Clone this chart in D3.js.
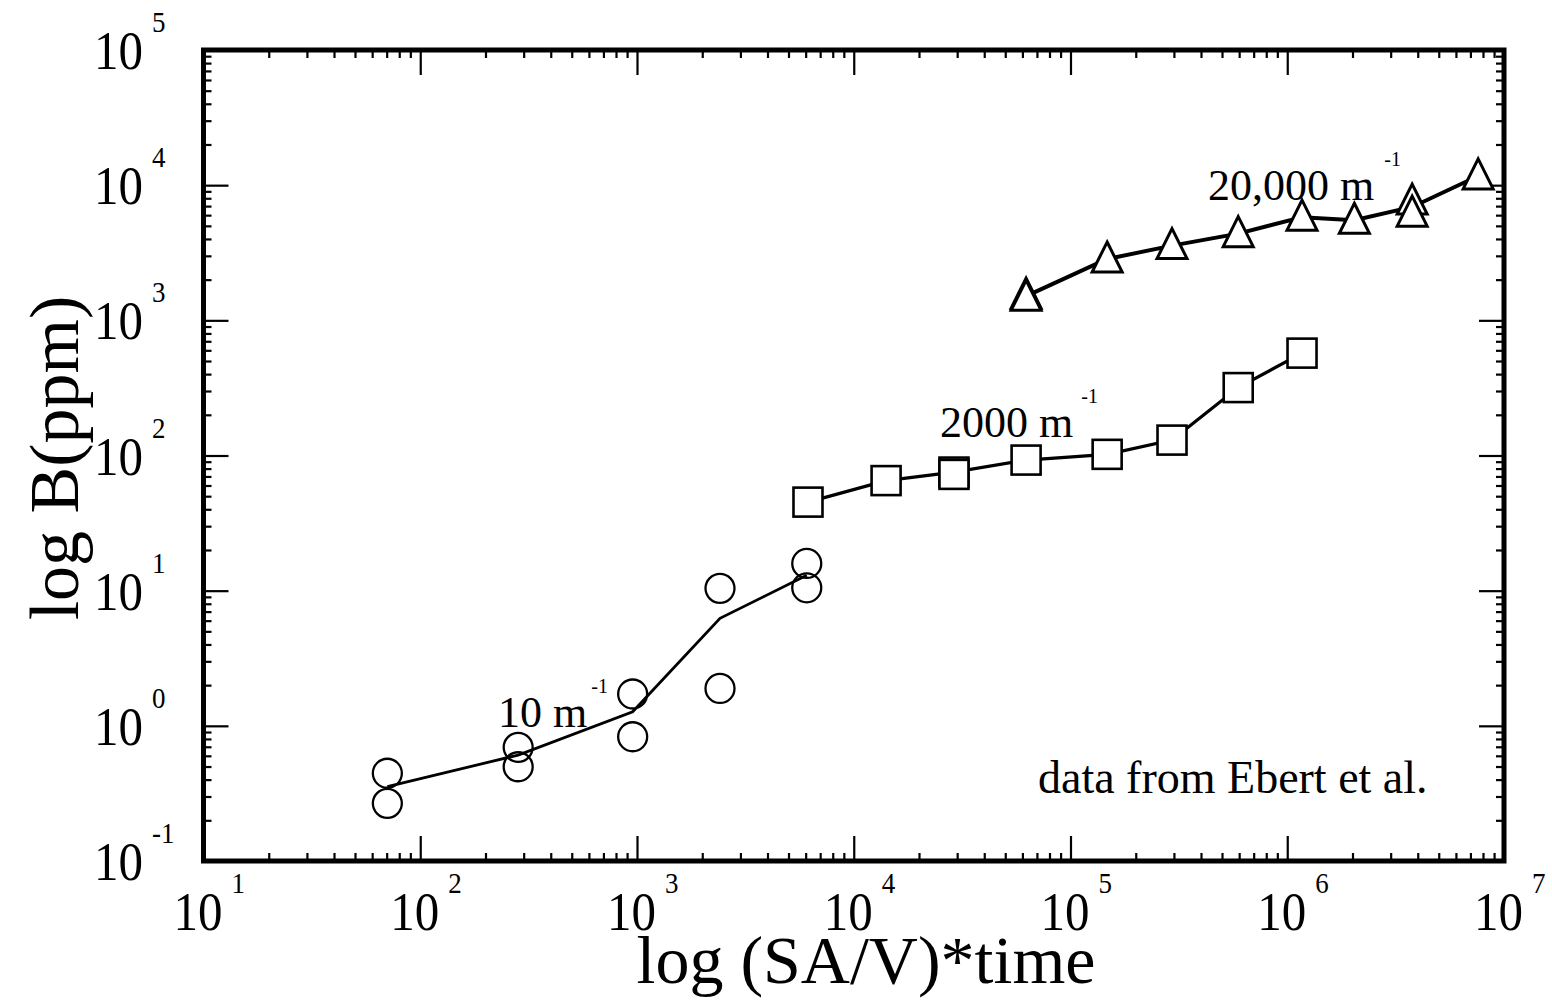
<!DOCTYPE html>
<html>
<head>
<meta charset="utf-8">
<script src="https://cdn.jsdelivr.net/npm/d3@7"></script>
<style>
  body { margin: 0; background: #fff; }
  text { font-family: "Liberation Serif", "Times New Roman", serif; fill: #000; }
</style>
</head>
<body>
<svg id="chart" width="1552" height="1000"></svg>
<script>
// 10 m^-1 (circles), pairs of repeat measurements
const circleX = [70.5, 70.5, 283, 283, 955, 955, 2415, 2415, 6070, 6070];
const circleY = [0.446, 0.267, 0.693, 0.498, 1.72, 0.83, 10.4, 1.89, 15.9, 10.5];
const circleLineX = [70.5, 283, 955, 2415, 6070];
const circleLineY = [0.355, 0.608, 1.27, 6.24, 13.0];

// 2000 m^-1 (squares)
const squareX = [6150, 14100, 29000, 29000, 62400, 147600, 294000, 594000, 1170000];
const squareY = [45.2, 65.2, 75.4, 72.5, 92.5, 102, 130, 318, 572];
const squareLineX = [6150, 14100, 29000, 62400, 147600, 294000, 594000, 1170000];
const squareLineY = [45.2, 65.2, 75.4, 92.5, 102, 130, 318, 572];

// 20,000 m^-1 (triangles)
const triX = [62400, 62400, 147600, 294000, 594000, 1170000, 2040000, 3770000, 3770000, 7600000];
const triY = [1536, 1480, 2843, 3572, 4378, 5800, 5500, 7620, 6210, 11700];
const triLineX = [62400, 147600, 294000, 594000, 1170000, 2040000, 3770000, 7600000];
const triLineY = [1510, 2843, 3572, 4378, 5800, 5500, 6900, 11700];

const xTickExp = [1, 2, 3, 4, 5, 6, 7];
const yTickExp = [-1, 0, 1, 2, 3, 4, 5];

const svg = d3.select("#chart");
const pLeft = 203.5, pRight = 1504, pTop = 50, pBottom = 861;

const x = d3.scaleLog().domain([10, 1e7]).range([pLeft, pRight]);
const y = d3.scaleLog().domain([0.1, 1e5]).range([pBottom, pTop]);

function minorTicks(lo, hi) {
  const out = [];
  for (let e = lo; e < hi; e++)
    for (let k = 2; k <= 9; k++) out.push(k * Math.pow(10, e));
  return out;
}
const xMajor = xTickExp.map(e => Math.pow(10, e));
const yMajor = yTickExp.map(e => Math.pow(10, e));
const xMinor = minorTicks(1, 7);
const yMinor = minorTicks(-1, 5);

// ticks, all pointing inward
function tickAxis(axisFn, scale, vals, len, tr) {
  const g = svg.append("g")
    .attr("transform", tr)
    .call(axisFn(scale).tickValues(vals).tickSize(-len).tickFormat(""));
  g.select(".domain").remove();
  g.selectAll("line").attr("stroke", "#000").attr("stroke-width", 2.2);
}
[[xMajor, 25], [xMinor, 8]].forEach(([v, l]) => {
  tickAxis(d3.axisBottom, x, v, l, `translate(0,${pBottom})`);
  tickAxis(d3.axisTop, x, v, l, `translate(0,${pTop})`);
});
[[yMajor, 25], [yMinor, 8]].forEach(([v, l]) => {
  tickAxis(d3.axisLeft, y, v, l, `translate(${pLeft},0)`);
  tickAxis(d3.axisRight, y, v, l, `translate(${pRight},0)`);
});

// frame
svg.append("rect")
  .attr("x", pLeft).attr("y", pTop)
  .attr("width", pRight - pLeft).attr("height", pBottom - pTop)
  .attr("fill", "none").attr("stroke", "#000").attr("stroke-width", 5);

// tick labels: 10 with superscript exponent, slightly tall like the scan
function powLabel(tx, ty, e) {
  const t = svg.append("text")
    .attr("transform", `translate(${tx},${ty}) scale(1,1.12)`)
    .style("font-size", "49px");
  t.append("tspan").text("10");
  t.append("tspan").attr("dx", 9).attr("dy", -33).style("font-size", "27px").text(e);
}
xTickExp.forEach(e => powLabel(x(Math.pow(10, e)) - 30, 930, e));
yTickExp.forEach(e => powLabel(94, y(Math.pow(10, e)) + 19, e));

// axis titles
svg.append("text")
  .attr("x", 866).attr("y", 983)
  .attr("text-anchor", "middle")
  .style("font-size", "68px")
  .text("log (SA/V)*time");

svg.append("text")
  .attr("transform", "translate(78,458) rotate(-90)")
  .attr("text-anchor", "middle")
  .style("font-size", "70px")
  .text("log B(ppm)");

// lines
const line = d3.line().x(d => x(d[0])).y(d => y(d[1]));
svg.append("path")
  .datum(d3.zip(circleLineX, circleLineY))
  .attr("d", line).attr("fill", "none").attr("stroke", "#000").attr("stroke-width", 2.8);
svg.append("path")
  .datum(d3.zip(squareLineX, squareLineY))
  .attr("d", line).attr("fill", "none").attr("stroke", "#000").attr("stroke-width", 3.2);
svg.append("path")
  .datum(d3.zip(triLineX, triLineY))
  .attr("d", line).attr("fill", "none").attr("stroke", "#000").attr("stroke-width", 4);

// markers
svg.append("g").selectAll("circle")
  .data(d3.zip(circleX, circleY))
  .enter().append("circle")
  .attr("cx", d => x(d[0])).attr("cy", d => y(d[1]))
  .attr("r", 14.5)
  .attr("fill", "none").attr("stroke", "#000").attr("stroke-width", 2.3);

const sq = 29;
svg.append("g").selectAll("rect")
  .data(d3.zip(squareX, squareY))
  .enter().append("rect")
  .attr("x", d => x(d[0]) - sq / 2).attr("y", d => y(d[1]) - sq / 2)
  .attr("width", sq).attr("height", sq)
  .attr("fill", "#fff").attr("stroke", "#000").attr("stroke-width", 2.6);

svg.append("g").selectAll("path")
  .data(d3.zip(triX, triY))
  .enter().append("path")
  .attr("transform", d => `translate(${x(d[0])},${y(d[1])})`)
  .attr("d", "M0,-17 L15,13 L-15,13 Z")
  .attr("fill", "#fff").attr("stroke", "#000").attr("stroke-width", 3)
  .attr("stroke-linejoin", "miter");

// annotations
function note(tx, ty, label, gap) {
  const t = svg.append("text").attr("x", tx).attr("y", ty).style("font-size", "44px");
  t.append("tspan").text(label);
  t.append("tspan").attr("dx", gap).attr("dy", -34).style("font-size", "20px").text("-1");
}
note(498, 727, "10 m", 4);
note(940, 437, "2000 m", 8);
note(1208, 200, "20,000 m", 10);

svg.append("text")
  .attr("x", 1038).attr("y", 793)
  .style("font-size", "46px")
  .text("data from Ebert et al.");
</script>
</body>
</html>
